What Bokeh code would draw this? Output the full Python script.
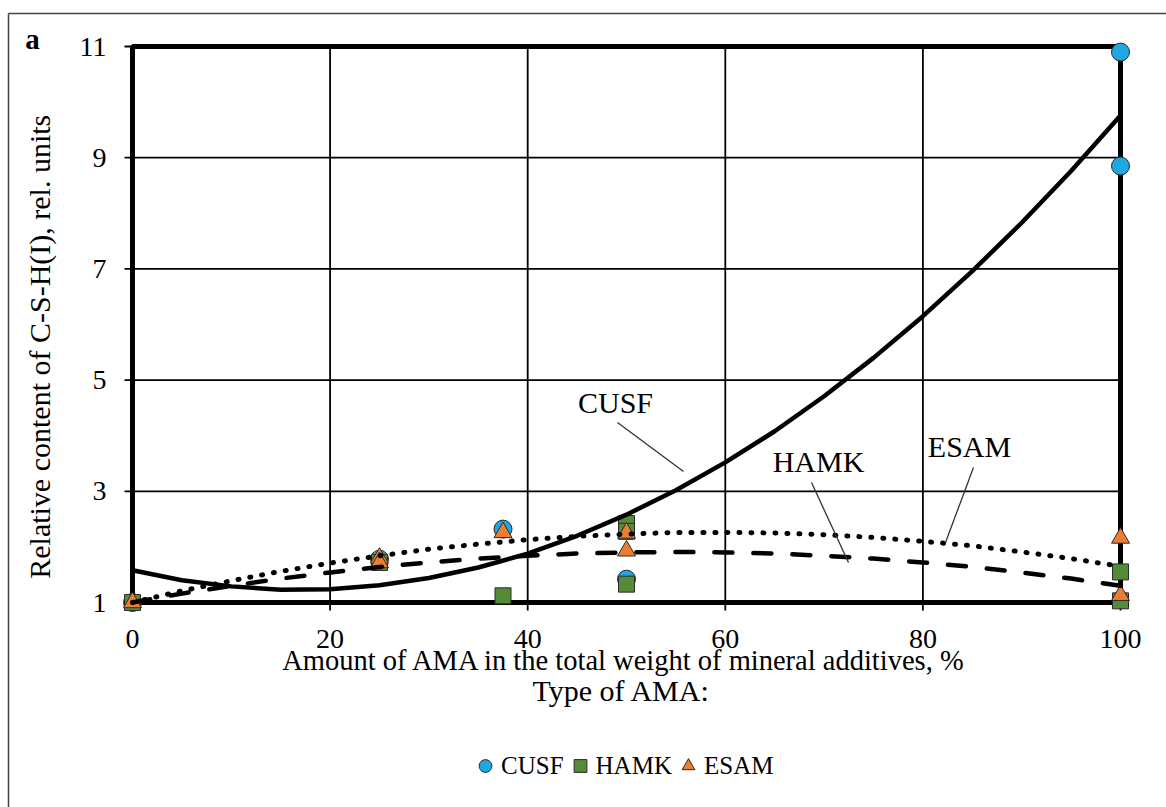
from bokeh.plotting import figure
from bokeh.models import Range1d, FixedTicker, Label, Legend, LegendItem
from bokeh.embed import file_html
from bokeh.resources import INLINE

FONT = "Liberation Serif"

# Measured points, relative C-S-H(I) content vs. share of AMA (%)
cusf_x = [0, 25, 37.5, 50, 100, 100]
cusf_y = [1.0, 1.78, 2.32, 1.42, 10.9, 8.85]
hamk_x = [0, 25, 37.5, 50, 50, 50, 100, 100]
hamk_y = [1.0, 1.72, 1.12, 2.42, 2.28, 1.33, 1.55, 1.03]
esam_x = [0, 25, 25, 37.5, 50, 50, 100, 100]
esam_y = [1.0, 1.80, 1.72, 2.26, 2.25, 1.93, 2.16, 1.13]

# Polynomial trend curves, sampled every 5 %
trend_x = [0, 5, 10, 15, 20, 25, 30, 35, 40, 45, 50, 55, 60, 65, 70, 75, 80, 85, 90, 95, 100]
cusf_trend = [1.58, 1.40, 1.29, 1.23, 1.24, 1.31, 1.44, 1.63, 1.88, 2.20, 2.58,
              3.02, 3.52, 4.08, 4.71, 5.40, 6.15, 6.96, 7.83, 8.76, 9.76]
hamk_trend = [1.00, 1.16, 1.30, 1.43, 1.54, 1.64, 1.72, 1.79, 1.84, 1.88, 1.90,
              1.91, 1.90, 1.88, 1.84, 1.79, 1.72, 1.64, 1.54, 1.43, 1.30]
esam_trend = [1.00, 1.21, 1.39, 1.56, 1.71, 1.84, 1.96, 2.05, 2.13, 2.19, 2.23,
              2.26, 2.26, 2.25, 2.22, 2.17, 2.10, 2.02, 1.91, 1.79, 1.65]

x_ticks = [0, 20, 40, 60, 80, 100]
y_ticks = [1, 3, 5, 7, 9, 11]
series_names = ["CUSF", "HAMK", "ESAM"]

COL_CUSF = "#1FA8E0"
COL_HAMK = "#558B36"
COL_ESAM = "#ED7D31"
EDGE = "#2b2b2b"

# The frame fills the whole canvas; the plot box sits at these pixel edges
W, H = 1166, 807
BOX_L, BOX_R, BOX_T, BOX_B = 132, 1120, 46, 602
x0, x1 = x_ticks[0], x_ticks[-1]
y0, y1 = y_ticks[0], y_ticks[-1]
px_x = (BOX_R - BOX_L) / (x1 - x0)
px_y = (BOX_B - BOX_T) / (y1 - y0)


def to_data(sx, sy):
    """Canvas pixel position -> data coordinates."""
    return x0 + (sx - BOX_L) / px_x, y0 + (BOX_B - sy) / px_y


p = figure(width=W, height=H, output_backend="svg", toolbar_location=None,
           x_range=Range1d(x0 - BOX_L / px_x, x1 + (W - BOX_R) / px_x),
           y_range=Range1d(y0 - (H - BOX_B) / px_y, y1 + BOX_T / px_y),
           min_border=0, min_border_left=0, min_border_right=0,
           min_border_top=0, min_border_bottom=0)
p.outline_line_color = None
p.grid.visible = False
p.background_fill_color = "white"
p.border_fill_color = "white"

# Axes pinned to the edges of the plot box
for ax in (p.xaxis[0], p.yaxis[0]):
    ax.axis_line_color = None
    ax.major_tick_line_color = None
    ax.minor_tick_line_color = None
    ax.major_tick_out = 0
    ax.major_tick_in = 0
    ax.minor_tick_out = 0
    ax.minor_tick_in = 0
    ax.major_label_text_font = FONT
    ax.major_label_text_font_size = "28px"
    ax.major_label_text_color = "black"
p.xaxis.ticker = FixedTicker(ticks=x_ticks)
p.yaxis.ticker = FixedTicker(ticks=y_ticks)
p.xaxis.fixed_location = y0
p.yaxis.fixed_location = x0
p.yaxis.major_label_standoff = 26
p.xaxis.major_label_standoff = 27

# Grid lines, each continuing outside the plot box as a tick mark
TICK = 8
p.segment(x0=x_ticks, y0=[y0 - TICK / px_y] * len(x_ticks), x1=x_ticks, y1=[y1] * len(x_ticks),
          line_color="black", line_width=1.8)
p.segment(x0=[x0 - TICK / px_x] * len(y_ticks), y0=y_ticks, x1=[x1] * len(y_ticks), y1=y_ticks,
          line_color="black", line_width=1.8)

# Heavy plot-area border
p.quad(left=[x0], right=[x1], bottom=[y0], top=[y1], fill_color=None,
       line_color="black", line_width=5)

# Measured points
r_cusf = p.scatter(cusf_x, cusf_y, marker="circle", size=18, fill_color=COL_CUSF,
                   line_color=EDGE, line_width=1)
r_hamk = p.scatter(hamk_x, hamk_y, marker="square", size=16, fill_color=COL_HAMK,
                   line_color=EDGE, line_width=1)
r_esam = p.scatter(esam_x, esam_y, marker="triangle", size=18, fill_color=COL_ESAM,
                   line_color=EDGE, line_width=1)

# Trend curves
p.line(trend_x, cusf_trend, line_color="black", line_width=4.5, line_join="round")
p.line(trend_x, hamk_trend, line_color="black", line_width=4.5, line_dash="18 21",
       line_cap="round")
p.line(trend_x, esam_trend, line_color="black", line_width=5, line_dash="1 11",
       line_cap="round")


def add_text(text, sx, sy, size="28px", angle=0, style="normal"):
    tx, ty = to_data(sx, sy)
    p.add_layout(Label(x=tx, y=ty, text=text, text_font=FONT, text_font_size=size,
                       text_font_style=style, text_align="center", text_baseline="middle",
                       angle=angle, angle_units="deg", text_color="black"))


# Curve captions with leader lines (canvas pixel positions)
caption_px = [(615, 402), (818, 461), (969, 446)]
leader_px = [((617, 422), (683, 471)), ((811, 482), (848, 562)), ((973, 467), (945, 542))]
for name, cpos, (a, b) in zip(series_names, caption_px, leader_px):
    add_text(name, *cpos, size="30px")
    ax_, ay_ = to_data(*a)
    bx_, by_ = to_data(*b)
    p.segment(x0=[ax_], y0=[ay_], x1=[bx_], y1=[by_], line_color="#333333", line_width=1.3)

add_text("Amount of AMA in the total weight of mineral additives, %", 624, 660, size="28.5px")
add_text("Type of AMA:", 621, 690, size="30px")
add_text("Relative  content of C-S-H(I),  rel.  units", 39, 335, size="30px", angle=90)
add_text("a", 32, 38, size="29px", style="bold")

# Thin panel frame along the left and top edges
fx0, fy0 = to_data(8, 13)
fx1, fy1 = to_data(W, H)
p.segment(x0=[fx0, fx0], y0=[fy0, fy0], x1=[fx1, fx0], y1=[fy0, fy1],
          line_color="#444444", line_width=1.5)

# Legend below the titles
lx, ly = 469, 24
legend = Legend(items=[LegendItem(label=series_names[0], renderers=[r_cusf]),
                       LegendItem(label=series_names[1], renderers=[r_hamk]),
                       LegendItem(label=series_names[2], renderers=[r_esam])],
                orientation="horizontal", location=(lx, ly),
                glyph_width=32, glyph_height=35, label_standoff=0, spacing=0,
                padding=0, margin=0, border_line_color=None, background_fill_alpha=0,
                label_text_font=FONT, label_text_font_size="25px", label_text_color="black")
p.add_layout(legend)

open("out.html", "w").write(file_html(p, INLINE))
